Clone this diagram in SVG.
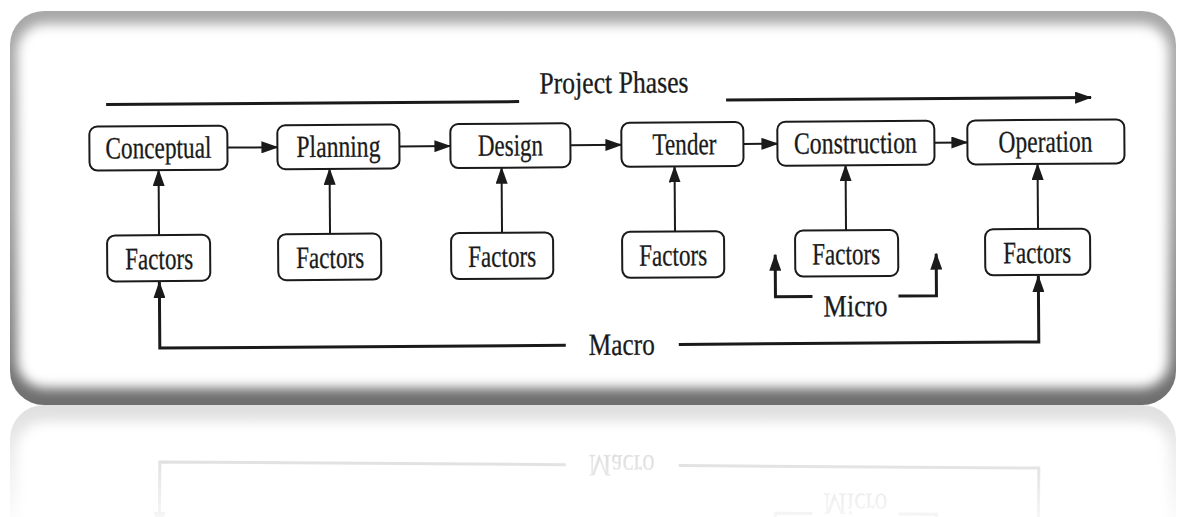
<svg xmlns="http://www.w3.org/2000/svg" xmlns:xlink="http://www.w3.org/1999/xlink" width="1177" height="517" viewBox="0 0 1177 517">
  <style>
    .box { fill: #ffffff; stroke: #1a1a1a; stroke-width: 2; }
    .lbl { font-family: "Liberation Serif", "Times New Roman", serif; font-size: 31px; fill: #1a1a1a; stroke: #1a1a1a; stroke-width: 0.3; text-anchor: middle; }
    .ln { fill: none; stroke: #1a1a1a; stroke-width: 2; }
    .heavy { fill: none; stroke: #1a1a1a; stroke-width: 3; }
  </style>
  <defs>
    <marker id="ah" viewBox="0 0 17 12" refX="16" refY="6" markerWidth="17" markerHeight="12" markerUnits="userSpaceOnUse" orient="auto">
      <path d="M0,0 L17,6 L0,12 Z" fill="#1a1a1a"/>
    </marker>
    <filter id="soft" x="-5%" y="-10%" width="110%" height="120%">
      <feGaussianBlur stdDeviation="6"/>
    </filter>
    <linearGradient id="rim" x1="0" y1="11" x2="0" y2="405" gradientUnits="userSpaceOnUse">
      <stop offset="0" stop-color="#a8a8a8"/>
      <stop offset="0.5" stop-color="#9a9a9a"/>
      <stop offset="1" stop-color="#6e6e6e"/>
    </linearGradient>
    <linearGradient id="fadeGrad" x1="0" y1="405" x2="0" y2="517" gradientUnits="userSpaceOnUse">
      <stop offset="0" stop-color="#fff" stop-opacity="0.22"/>
      <stop offset="1" stop-color="#fff" stop-opacity="0.04"/>
    </linearGradient>
    <mask id="fade" maskUnits="userSpaceOnUse" x="0" y="405" width="1177" height="112">
      <rect x="0" y="405" width="1177" height="112" fill="url(#fadeGrad)"/>
    </mask>
  </defs>

  <rect width="1177" height="517" fill="#ffffff"/>

  <g id="scene">
    <!-- bevelled frame -->
    <g id="frame">
      <rect x="10" y="11" width="1166" height="394" rx="34" fill="url(#rim)"/>
      <rect x="17" y="24" width="1152" height="364" rx="28" fill="#ffffff" filter="url(#soft)"/>
    </g>

    <g id="diagram" transform="rotate(-0.4 600 230)">
      <g id="connectors">
        <!-- project phases timeline -->
        <line class="heavy" x1="107" y1="101" x2="520" y2="101"/>
        <line class="heavy" x1="727" y1="101" x2="1092" y2="101" marker-end="url(#ah)"/>
        <!-- phase sequence -->
        <line class="ln" x1="228" y1="145" x2="278" y2="145" marker-end="url(#ah)"/>
        <line class="ln" x1="400" y1="145" x2="451" y2="145" marker-end="url(#ah)"/>
        <line class="ln" x1="571" y1="145" x2="622" y2="145" marker-end="url(#ah)"/>
        <line class="ln" x1="744" y1="145" x2="778" y2="145" marker-end="url(#ah)"/>
        <line class="ln" x1="935" y1="145" x2="968" y2="145" marker-end="url(#ah)"/>
        <!-- factors feeding each phase -->
        <line class="ln" x1="159" y1="232" x2="159" y2="167" marker-end="url(#ah)"/>
        <line class="ln" x1="330" y1="232" x2="330" y2="167" marker-end="url(#ah)"/>
        <line class="ln" x1="502" y1="232" x2="502" y2="167" marker-end="url(#ah)"/>
        <line class="ln" x1="675" y1="232" x2="675" y2="167" marker-end="url(#ah)"/>
        <line class="ln" x1="846" y1="232" x2="846" y2="167" marker-end="url(#ah)"/>
        <line class="ln" x1="1038" y1="232" x2="1038" y2="167" marker-end="url(#ah)"/>
        <!-- macro loop -->
        <polyline class="heavy" points="565,345 159,345 159,279" marker-end="url(#ah)"/>
        <polyline class="heavy" points="678,345 1038,345 1038,279" marker-end="url(#ah)"/>
        <!-- micro loop -->
        <polyline class="heavy" points="812,298 775,298 775,256" marker-end="url(#ah)"/>
        <polyline class="heavy" points="898,298 936,298 936,256" marker-end="url(#ah)"/>
      </g>

      <text id="title" class="lbl" x="615" y="93" textLength="149" lengthAdjust="spacingAndGlyphs">Project Phases</text>
      <text id="macro" class="lbl" x="621" y="355" textLength="66" lengthAdjust="spacingAndGlyphs">Macro</text>
      <text id="micro" class="lbl" x="855" y="318" textLength="64" lengthAdjust="spacingAndGlyphs">Micro</text>

      <g id="conceptual">
        <rect class="box" x="90" y="123" width="138" height="44" rx="8"/>
        <text class="lbl" x="159" y="155" textLength="106" lengthAdjust="spacingAndGlyphs">Conceptual</text>
      </g>
      <g id="planning">
        <rect class="box" x="278" y="123" width="122" height="44" rx="8"/>
        <text class="lbl" x="339" y="155" textLength="84" lengthAdjust="spacingAndGlyphs">Planning</text>
      </g>
      <g id="design">
        <rect class="box" x="451" y="123" width="120" height="44" rx="8"/>
        <text class="lbl" x="511" y="155" textLength="65" lengthAdjust="spacingAndGlyphs">Design</text>
      </g>
      <g id="tender">
        <rect class="box" x="622" y="123" width="122" height="44" rx="8"/>
        <text class="lbl" x="685" y="155" textLength="64" lengthAdjust="spacingAndGlyphs">Tender</text>
      </g>
      <g id="construction">
        <rect class="box" x="778" y="123" width="157" height="44" rx="8"/>
        <text class="lbl" x="856" y="155" textLength="123" lengthAdjust="spacingAndGlyphs">Construction</text>
      </g>
      <g id="operation">
        <rect class="box" x="968" y="123" width="157" height="44" rx="8"/>
        <text class="lbl" x="1046" y="155" textLength="94" lengthAdjust="spacingAndGlyphs">Operation</text>
      </g>

      <g id="factors-conceptual">
        <rect class="box" x="107" y="232" width="103" height="46" rx="8"/>
        <text class="lbl" x="159" y="266" textLength="68" lengthAdjust="spacingAndGlyphs">Factors</text>
      </g>
      <g id="factors-planning">
        <rect class="box" x="278" y="232" width="103" height="46" rx="8"/>
        <text class="lbl" x="330" y="266" textLength="68" lengthAdjust="spacingAndGlyphs">Factors</text>
      </g>
      <g id="factors-design">
        <rect class="box" x="451" y="232" width="102" height="46" rx="8"/>
        <text class="lbl" x="502" y="266" textLength="68" lengthAdjust="spacingAndGlyphs">Factors</text>
      </g>
      <g id="factors-tender">
        <rect class="box" x="622" y="232" width="102" height="46" rx="8"/>
        <text class="lbl" x="673" y="266" textLength="68" lengthAdjust="spacingAndGlyphs">Factors</text>
      </g>
      <g id="factors-construction">
        <rect class="box" x="795" y="232" width="103" height="46" rx="8"/>
        <text class="lbl" x="846" y="266" textLength="68" lengthAdjust="spacingAndGlyphs">Factors</text>
      </g>
      <g id="factors-operation">
        <rect class="box" x="985" y="232" width="105" height="46" rx="8"/>
        <text class="lbl" x="1037" y="266" textLength="68" lengthAdjust="spacingAndGlyphs">Factors</text>
      </g>
    </g>
  </g>

  <!-- mirrored reflection under the frame -->
  <g id="reflection" mask="url(#fade)">
    <use xlink:href="#scene" transform="translate(0 810) scale(1 -1)"/>
  </g>
</svg>
